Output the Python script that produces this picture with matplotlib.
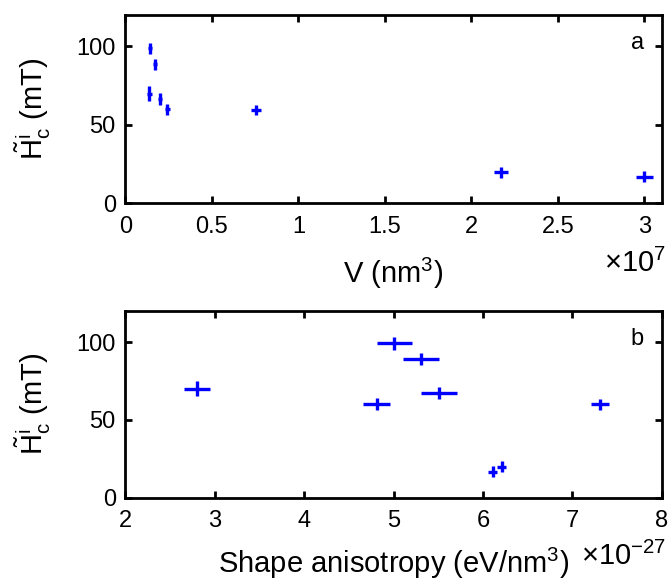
import numpy as np
import matplotlib.pyplot as plt

plt.rcParams['font.family'] = ['Liberation Sans', 'DejaVu Sans']
plt.rcParams['mathtext.fontset'] = 'custom'
plt.rcParams['mathtext.rm'] = 'Liberation Sans'
plt.rcParams['mathtext.it'] = 'Liberation Sans:italic'
plt.rcParams['mathtext.bf'] = 'Liberation Sans:bold'

# panel a: coercive field vs volume (V in units of 1e7 nm^3)
vol = [0.138, 0.142, 0.171, 0.201, 0.242, 0.753, 2.169, 3.0]
vol_err = [0.013, 0.013, 0.013, 0.013, 0.013, 0.029, 0.04, 0.05]
hc_a = [69.7, 98.8, 88.6, 66.5, 59.9, 59.5, 19.8, 17.0]
hc_a_err = [4.8, 3.4, 3.4, 3.9, 3.6, 3.2, 3.5, 3.5]

# panel b: coercive field vs shape anisotropy (units of 1e-27 eV/nm^3)
aniso = [2.80, 5.01, 5.31, 5.51, 4.81, 6.11, 6.21, 7.31]
aniso_err = [0.15, 0.2, 0.2, 0.2, 0.15, 0.05, 0.05, 0.1]
hc_b = [70.0, 99.2, 89.3, 67.3, 60.2, 16.7, 19.9, 60.0]
hc_b_err = [4.9, 4.0, 3.8, 3.8, 3.7, 3.6, 3.6, 3.7]

ylab = r'$\mathrm{\tilde{H}_c^i}$ (mT)'
fs = 17      # tick labels
lfs = 21     # axis labels

fig = plt.figure(figsize=(6.71, 5.84), dpi=100)
ax1 = fig.add_axes([0.187, 0.652, 0.799, 0.3224])
ax2 = fig.add_axes([0.187, 0.1478, 0.799, 0.3197])

ax1.errorbar(vol, hc_a, xerr=vol_err, yerr=hc_a_err, fmt='none',
             ecolor='#0000ff', elinewidth=2.4, capsize=0)
ax2.errorbar(aniso, hc_b, xerr=aniso_err, yerr=hc_b_err, fmt='none',
             ecolor='#0000ff', elinewidth=2.4, capsize=0)

ax1.set_xlim(0, 3.1)
ax1.set_xticks([0, 0.5, 1, 1.5, 2, 2.5, 3])
ax1.set_xticklabels(['0', '0.5', '1', '1.5', '2', '2.5', '3'])
ax2.set_xlim(2, 8)
ax2.set_xticks([2, 3, 4, 5, 6, 7, 8])

for ax in (ax1, ax2):
    ax.set_ylim(0, 120)
    ax.set_yticks([0, 50, 100])
    ax.tick_params(direction='in', length=5, width=2, labelsize=fs,
                   top=True, right=True)
    ax.tick_params(axis='x', pad=9)
    ax.tick_params(axis='y', pad=7)
    for s in ax.spines.values():
        s.set_linewidth(2)
    ax.set_ylabel(ylab, fontsize=lfs)
    ax.yaxis.set_label_coords(-0.135, 0.5)

# axis heights in pixels, used to place labels below the spines
h1 = 0.3224 * 584
h2 = 0.3197 * 584

ax1.set_xlabel('V (nm$^3$)', fontsize=lfs, va='baseline')
ax1.xaxis.set_label_coords(0.5, -80 / h1)
ax1.text(1.008, -69 / h1, r'$\times$10$^7$', transform=ax1.transAxes,
         ha='right', va='baseline', fontsize=lfs)

ax2.set_xlabel('Shape anisotropy (eV/nm$^3$)', fontsize=lfs, va='baseline')
ax2.xaxis.set_label_coords(0.5, -75 / h2)
ax2.text(1.008, -67 / h2, r'$\times$10$^{-27}$', transform=ax2.transAxes,
         ha='right', va='baseline', fontsize=lfs)

ax1.text(0.955, 0.85, 'a', transform=ax1.transAxes, ha='center',
         va='center', fontsize=fs)
ax2.text(0.955, 0.85, 'b', transform=ax2.transAxes, ha='center',
         va='center', fontsize=fs)

plt.savefig('out.png', dpi=100)
